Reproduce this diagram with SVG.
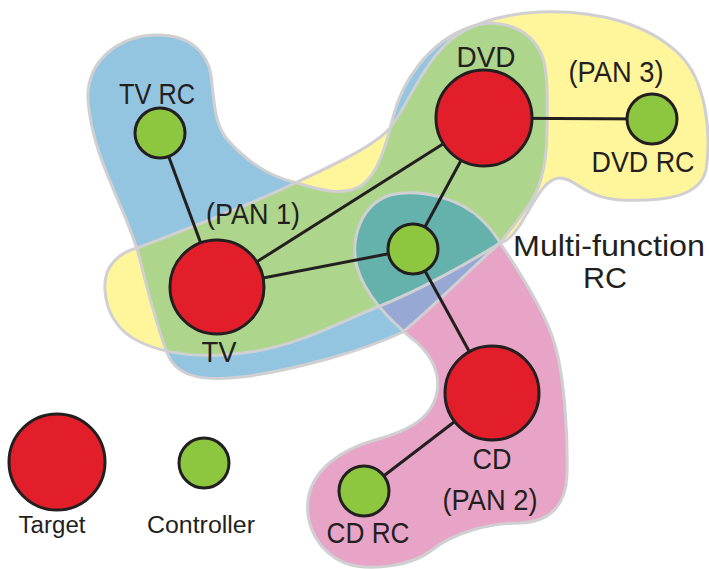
<svg xmlns="http://www.w3.org/2000/svg" width="709" height="569" viewBox="0 0 709 569">
<style>
.rg{fill:none;stroke:#d0d0d2;stroke-width:3}
.lk{stroke:#231f20;stroke-width:3;fill:none}
.tg{fill:#e21e2b;stroke:#231f20;stroke-width:3}
.ct{fill:#8dc63f;stroke:#231f20;stroke-width:3}
text{font-family:"Liberation Sans",Arial,sans-serif;fill:#231f20;font-size:30px;text-anchor:middle}
.sm{font-size:23px}
</style>
<defs>
<path id="pB" d="M88,100 C86,60 120,35 158,35 C190,35 207,52 211,75 C214,100 214,122 226,138 C245,160 270,177 297,183 C320,190 345,197 362,185 C377,174 385,150 393,117 C402,82 428,42 470,27 C500,17 532,28 543,58 C549,78 547,110 547,130 C547,160 541,185 532,200 C522,216 510,230 500,243 C478,262 430,310 403,332 C360,352 300,368 250,376 C205,382 178,378 168,355 C158,330 150,300 140,260 C128,210 92,160 88,100 Z"/>
<path id="pY" d="M105,290 C103,265 120,252 140,247 C190,228 250,205 297,182 C340,162 375,145 390,128 C405,110 420,70 445,45 C465,25 500,14 540,12 C600,10 650,25 680,55 C705,80 712,130 706,170 C700,195 670,202 620,200 C585,198 575,178 560,178 C545,178 535,200 520,225 C512,237 505,242 500,243 C470,262 420,290 380,306 C340,322 300,345 250,352 C210,358 170,356 140,342 C118,332 106,312 105,290 Z"/>
<path id="pP" d="M390,195 C420,188 460,198 482,220 C492,230 497,237 500,243 C515,265 545,310 555,345 C565,380 568,440 567,475 C566,505 550,522 520,523 C490,523 455,532 432,550 C412,566 370,572 345,563 C318,552 305,525 308,500 C312,470 340,450 375,440 C405,432 432,420 437,392 C441,370 428,350 410,337 C388,318 365,295 357,267 C350,240 360,205 390,195 Z"/>
<clipPath id="cB"><use href="#pB"/></clipPath>
<clipPath id="cBY" clip-path="url(#cB)"><use href="#pY"/></clipPath>
</defs>
<g id="regions">
<use href="#pB" fill="#93c5e1"/>
<use href="#pY" fill="#fff59b"/>
<use href="#pP" fill="#e8a4c6"/>
<use href="#pY" fill="#aed58c" clip-path="url(#cB)"/>
<use href="#pP" fill="#98a8d4" clip-path="url(#cB)"/>
<use href="#pP" fill="#65b2ad" clip-path="url(#cBY)"/>
<use href="#pB" class="rg"/>
<use href="#pY" class="rg"/>
<use href="#pP" class="rg"/>
</g>
<g id="connectors">
<line class="lk" x1="160" y1="133" x2="217" y2="287"/>
<line class="lk" x1="217" y1="287" x2="484" y2="118"/>
<line class="lk" x1="217" y1="287" x2="413" y2="249"/>
<line class="lk" x1="484" y1="118" x2="413" y2="249"/>
<line class="lk" x1="484" y1="118" x2="652" y2="119"/>
<line class="lk" x1="413" y1="249" x2="492" y2="393"/>
<line class="lk" x1="492" y1="393" x2="364" y2="491"/>
</g>
<g id="tvrc"><circle class="ct" cx="160" cy="133" r="25"/><text x="157" y="104" textLength="76" lengthAdjust="spacingAndGlyphs">TV RC</text></g>
<g id="tv"><circle class="tg" cx="217" cy="287" r="47"/><text x="253" y="224" textLength="94" lengthAdjust="spacingAndGlyphs">(PAN 1)</text><text x="219" y="362" textLength="35" lengthAdjust="spacingAndGlyphs">TV</text></g>
<g id="dvd"><circle class="tg" cx="484" cy="118" r="48"/><text x="486" y="67" textLength="59" lengthAdjust="spacingAndGlyphs">DVD</text></g>
<g id="dvdrc"><circle class="ct" cx="652" cy="119" r="25"/><text x="616" y="82" textLength="95" lengthAdjust="spacingAndGlyphs">(PAN 3)</text><text x="643" y="172" textLength="103" lengthAdjust="spacingAndGlyphs">DVD RC</text></g>
<g id="multirc"><circle class="ct" cx="413" cy="249" r="25"/><text x="609" y="256" textLength="192" lengthAdjust="spacingAndGlyphs">Multi-function</text><text x="605" y="288" textLength="44" lengthAdjust="spacingAndGlyphs">RC</text></g>
<g id="cd"><circle class="tg" cx="492" cy="393" r="47"/><text x="492" y="469" textLength="39" lengthAdjust="spacingAndGlyphs">CD</text><text x="490" y="510" textLength="95" lengthAdjust="spacingAndGlyphs">(PAN 2)</text></g>
<g id="cdrc"><circle class="ct" cx="364" cy="491" r="25"/><text x="368" y="543" textLength="83" lengthAdjust="spacingAndGlyphs">CD RC</text></g>
<g id="legend-target"><circle class="tg" cx="57" cy="462" r="48"/><text class="sm" x="52" y="533" textLength="67" lengthAdjust="spacingAndGlyphs">Target</text></g>
<g id="legend-controller"><circle class="ct" cx="204" cy="463" r="25"/><text class="sm" x="201" y="533" textLength="108" lengthAdjust="spacingAndGlyphs">Controller</text></g>
</svg>
